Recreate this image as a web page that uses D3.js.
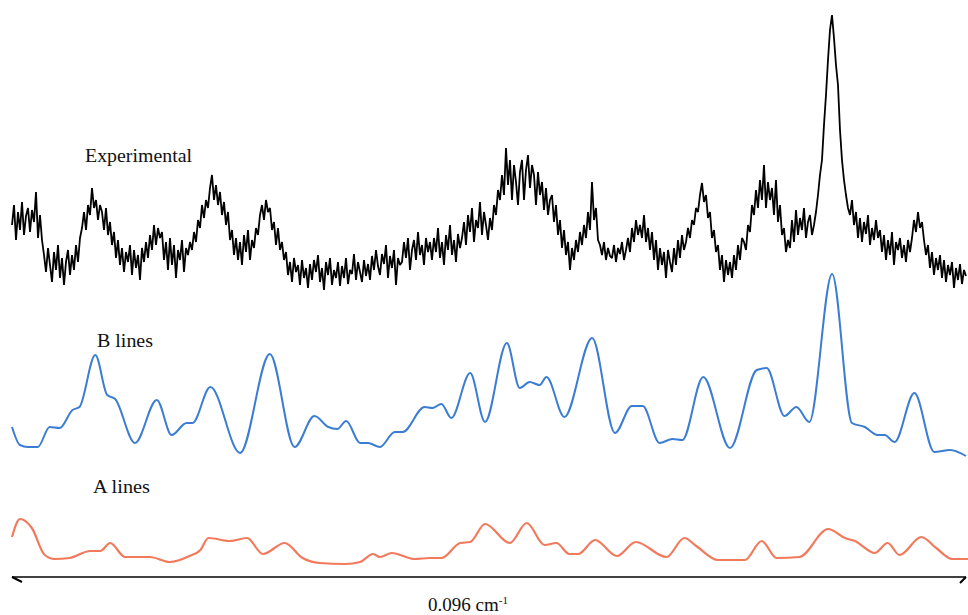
<!DOCTYPE html>
<html>
<head>
<meta charset="utf-8">
<script src="https://cdn.jsdelivr.net/npm/d3@7"></script>
<style>
  html, body { margin: 0; padding: 0; background: #fff; }
  svg { display: block; }
  text { font-family: "Liberation Serif", "Times New Roman", serif; fill: #111; }
</style>
</head>
<body>
<svg id="chart" width="968" height="615"></svg>
<script>
// Wavenumber offsets in units of 1e-4 cm^-1; the full span is 0.096 cm^-1.
const spanUnits = 960;

// Experimental spectrum: equally spaced samples across the scan.
const expStart = 0;
const expEnd = 962;
const experimental = [
  75, 95, 60, 88, 70, 98, 65, 84, 92, 68, 90, 78, 108, 62, 85,
  60, 45, 28, 52, 35, 18, 48, 30, 55, 22, 42, 15, 38, 50, 25,
  45, 30, 55, 38, 62, 72, 88, 70, 95, 85, 112, 92, 100, 80, 95,
  88, 70, 92, 65, 78, 55, 68, 42, 60, 35, 52, 28, 48, 38, 55,
  25, 50, 32, 45, 20, 52, 38, 58, 42, 65, 50, 75, 55, 72, 62,
  68, 40, 58, 30, 62, 35, 55, 22, 50, 40, 60, 28, 52, 45, 58,
  50, 68, 58, 80, 72, 95, 82, 100, 92, 112, 125, 100, 115, 95, 108,
  85, 98, 75, 88, 60, 70, 45, 62, 40, 58, 35, 65, 48, 70, 40,
  60, 52, 72, 65, 85, 95, 80, 100, 88, 92, 70, 78, 55, 72, 50,
  58, 40, 48, 25, 38, 18, 42, 28, 35, 15, 40, 22, 32, 12, 36,
  20, 40, 28, 45, 18, 32, 10, 38, 25, 42, 15, 30, 22, 38, 14,
  34, 22, 42, 16, 30, 26, 46, 20, 38, 28, 18, 40, 24, 36, 20,
  44, 30, 50, 34, 25, 46, 36, 55, 22, 44, 32, 50, 15, 42, 35,
  38, 58, 42, 62, 30, 50, 60, 40, 68, 45, 55, 35, 62, 48, 58,
  40, 62, 48, 72, 42, 58, 35, 65, 50, 75, 45, 60, 38, 66, 52,
  62, 78, 55, 85, 68, 92, 58, 80, 72, 98, 65, 88, 75, 60, 82,
  70, 95, 85, 110, 100, 125, 105, 152, 115, 140, 100, 135, 118, 95, 128,
  140, 100, 130, 145, 112, 135, 125, 95, 128, 105, 118, 90, 112, 85, 100,
  105, 78, 95, 65, 80, 52, 70, 45, 58, 30, 52, 40, 60, 48, 68,
  55, 75, 62, 88, 70, 118, 80, 92, 60, 55, 45, 58, 40, 52, 44,
  42, 55, 38, 52, 46, 58, 40, 50, 62, 48, 72, 58, 80, 65, 75,
  62, 85, 58, 72, 50, 68, 40, 60, 30, 52, 35, 48, 22, 50, 38,
  28, 52, 35, 60, 42, 65, 50, 58, 72, 62, 80, 75, 92, 88, 105,
  117, 98, 105, 82, 88, 62, 70, 48, 55, 30, 45, 18, 40, 25, 38,
  22, 45, 30, 55, 40, 62, 58, 50, 75, 68, 95, 85, 110, 92, 120,
  100, 135, 92, 118, 100, 112, 85, 120, 78, 95, 65, 72, 48, 60, 52,
  80, 58, 90, 65, 82, 70, 92, 62, 78, 85, 65, 75, 88, 105, 125,
  140, 175, 205, 240, 270, 285, 262, 235, 215, 170, 140, 120, 105, 92, 85,
  100, 75, 88, 62, 82, 58, 78, 66, 85, 55, 72, 60, 80, 62, 70,
  48, 65, 40, 60, 45, 68, 35, 58, 50, 62, 42, 55, 38, 60, 48,
  62, 80, 68, 88, 72, 78, 60, 45, 55, 32, 48, 25, 42, 30, 45,
  22, 40, 18, 35, 25, 38, 12, 32, 20, 36, 16, 30, 24
];

// Simulated B-line spectrum: wavenumber offset and intensity.
const bLinesX = [0, 8, 16, 26, 38, 48, 61, 68, 84, 96, 104, 124, 146, 161, 176, 182,
  200, 230, 260, 285, 305, 319, 328, 337, 351, 359, 371, 386, 394, 416, 424, 433,
  443, 462, 477, 499, 512, 522, 532, 539, 557, 585, 608, 625, 636, 653, 666, 676,
  697, 724, 751, 761, 779, 791, 804, 827, 847, 860, 873, 880, 890, 910, 930, 946, 962];
const bLinesY = [33, 15, 13, 13, 33, 32, 50, 53, 105, 65, 61, 17, 60, 25, 37, 37,
  73, 7, 106, 13, 44, 33, 31, 39, 17, 17, 13, 28, 28, 53, 52, 56,
  42, 87, 38, 117, 72, 78, 75, 83, 43, 122, 27, 54, 54, 17, 21, 20,
  83, 12, 90, 92, 44, 53, 38, 186, 37, 33, 25, 25, 18, 67, 8, 10, 4];

// Simulated A-line spectrum: wavenumber offset and intensity.
const aLinesX = [0, 8, 20, 33, 43, 58, 79, 89, 99, 114, 139, 159, 179, 190, 198, 220,
  237, 253, 275, 293, 310, 336, 351, 364, 371, 383, 406, 421, 433, 452, 462, 477,
  502, 519, 537, 549, 562, 571, 588, 610, 629, 660, 678, 690, 712, 739, 756, 771,
  794, 823, 840, 850, 870, 883, 895, 917, 932, 948, 964];
const aLinesY = [33, 51, 42, 15, 11, 12, 19, 19, 27, 13, 13, 8, 14, 20, 32, 29,
  32, 16, 27, 12, 7, 6, 8, 16, 13, 17, 11, 12, 12, 27, 28, 46,
  27, 47, 25, 27, 16, 16, 30, 14, 28, 13, 32, 24, 10, 10, 29, 12,
  13, 41, 32, 29, 17, 27, 15, 33, 22, 11, 11];

const traceLabels = ["Experimental", "B lines", "A lines"];
const spanLabel = "0.096 cm";
const spanUnitExp = "-1";

const svg = d3.select("#chart");

const x = d3.scaleLinear().domain([0, spanUnits]).range([12, 964]);
const yExp = d3.scaleLinear().domain([0, 290]).range([300, 10]);
const yB = d3.scaleLinear().domain([0, 200]).range([460, 260]);
const yA = d3.scaleLinear().domain([0, 60]).range([570, 510]);

const expIndex = d3.scaleLinear().domain([0, experimental.length - 1]).range([expStart, expEnd]);

// Experimental trace (raw samples joined with straight segments)
svg.append("path")
  .datum(experimental)
  .attr("fill", "none")
  .attr("stroke", "#000")
  .attr("stroke-width", 1.8)
  .attr("stroke-linejoin", "bevel")
  .attr("d", d3.line()
    .x((d, i) => x(expIndex(i)))
    .y(d => yExp(d)));

// B lines
const bData = bLinesX.map((w, i) => [w, bLinesY[i]]);
svg.append("path")
  .datum(bData)
  .attr("fill", "none")
  .attr("stroke", "#3b7dd3")
  .attr("stroke-width", 2)
  .attr("d", d3.line().curve(d3.curveMonotoneX)
    .x(d => x(d[0])).y(d => yB(d[1])));

// A lines
const aData = aLinesX.map((w, i) => [w, aLinesY[i]]);
svg.append("path")
  .datum(aData)
  .attr("fill", "none")
  .attr("stroke", "#f27a5c")
  .attr("stroke-width", 2.2)
  .attr("d", d3.line().curve(d3.curveMonotoneX)
    .x(d => x(d[0])).y(d => yA(d[1])));

// Trace labels
const labelPos = [
  { x: 85, y: 162, len: 107 },
  { x: 97, y: 347, len: 56 },
  { x: 93, y: 493, len: 57 }
];
svg.selectAll("text.trace")
  .data(traceLabels)
  .join("text")
  .attr("class", "trace")
  .attr("x", (d, i) => labelPos[i].x)
  .attr("y", (d, i) => labelPos[i].y)
  .attr("font-size", 18)
  .attr("textLength", (d, i) => labelPos[i].len)
  .attr("lengthAdjust", "spacingAndGlyphs")
  .text(d => d);

// Span arrow with half-barbs at each end
const axisY = 577;
const x0 = x(0), x1 = x(spanUnits) + 2;
svg.append("path")
  .attr("fill", "none")
  .attr("stroke", "#000")
  .attr("stroke-width", 1.5)
  .attr("d", `M${x0},${axisY}H${x1}`);
svg.append("path")
  .attr("fill", "none")
  .attr("stroke", "#000")
  .attr("stroke-width", 2)
  .attr("d", `M${x0},${axisY}L${x0 + 10},${axisY + 5}M${x1},${axisY}L${x1 - 6},${axisY + 6}`);

// Span label
const span = svg.append("text")
  .attr("x", 428)
  .attr("y", 611)
  .attr("font-size", 19);
span.append("tspan").text(spanLabel);
span.append("tspan")
  .attr("font-size", 11)
  .attr("dy", -7)
  .text(spanUnitExp);
</script>
</body>
</html>
